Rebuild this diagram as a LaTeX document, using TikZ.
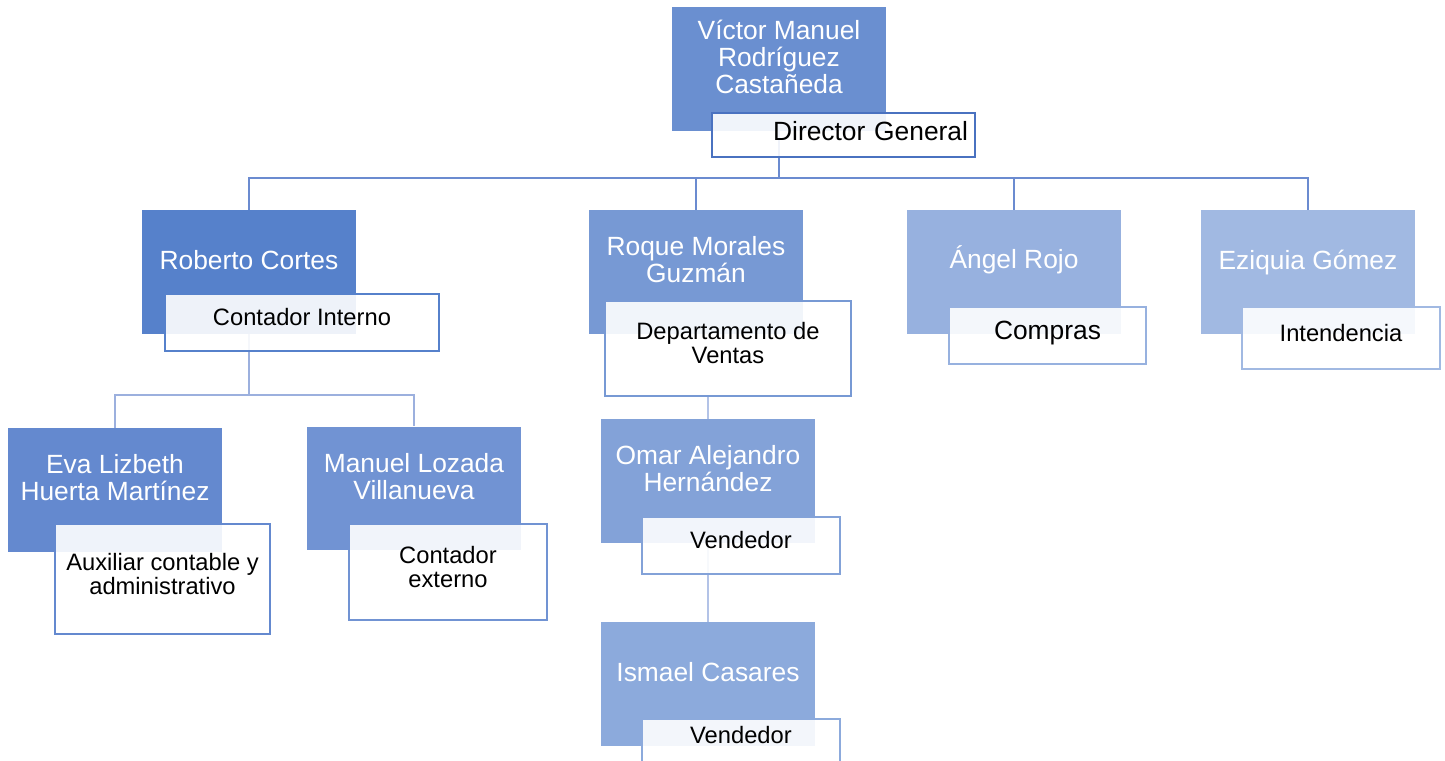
\documentclass[tikz,border=0pt]{standalone}
\usepackage{fontspec}
\setmainfont{Liberation Sans}
\usetikzlibrary{calc}

\definecolor{vicblue}{HTML}{6A8FD0}
\definecolor{robblue}{HTML}{5681CB}
\definecolor{roqblue}{HTML}{7799D4}
\definecolor{angblue}{HTML}{97B1DF}
\definecolor{ezublue}{HTML}{A1B9E2}
\definecolor{evablue}{HTML}{6489CF}
\definecolor{manblue}{HTML}{7193D3}
\definecolor{omablue}{HTML}{83A2D8}
\definecolor{ismblue}{HTML}{8CAADC}
\definecolor{dgline}{HTML}{4A72C0}
\definecolor{busone}{HTML}{6B8BD0}
\definecolor{bustwo}{HTML}{9CB0DE}
\definecolor{busthree}{HTML}{B3C3E7}

\tikzset{
  persona/.style={fill=#1, text=white, minimum width=4.28cm, minimum height=2.48cm,
    align=center, inner sep=2pt, text depth=14pt, font=\fontsize{15}{15.3}\selectfont},
  cargo/.style={draw=#1, line width=1.1pt, fill=white, fill opacity=0.9, text opacity=1,
    text=black, align=center, inner sep=2pt, text depth=6pt, font=\fontsize{13.5}{13.6}\selectfont},
  bus/.style={draw=#1, line width=1.1pt},
}

\begin{document}
\begin{tikzpicture}[x=0.02cm, y=-0.02cm]
\useasboundingbox (0,0) rectangle (1445,761);

\node[persona=vicblue] (vic) at (779,69) {Víctor Manuel\\Rodríguez\\Castañeda};
\node[persona=robblue] (rob) at (249,272) {Roberto Cortes};
\node[persona=roqblue] (roq) at (696,272) {Roque Morales\\Guzmán};
\node[persona=angblue, text depth=17.5pt] (ang) at (1014,272) {Ángel Rojo};
\node[persona=ezublue] (ezi) at (1308,272) {Eziquia Gómez};
\node[persona=evablue] (eva) at (115,490) {Eva Lizbeth\\Huerta Martínez};
\node[persona=manblue] (man) at (414,488.5) {Manuel Lozada\\Villanueva};
\node[persona=omablue] (oma) at (708,481) {Omar Alejandro\\Hernández};
\node[persona=ismblue] (ism) at (708,684) {Ismael Casares};

\foreach \c in {rob,roq,ang,ezi}
  \draw[bus=busone] (vic.south) -- ++(0,47) -| (\c.north);
\foreach \c in {eva,man}
  \draw[bus=bustwo] (rob.south) -- ++(0,61) -| (\c.north);
\draw[bus=busthree] (oma.north) -- ++(0,-23);
\draw[bus=busthree] (oma.south) -- (ism.north);

\node[cargo=dgline, minimum height=0.88cm, text width=4.98cm, align=right, inner xsep=0.14cm,
  text depth=5pt, font=\fontsize{15}{15.3}\selectfont] (dg) at (843.5,135) {Director General};
\node[cargo=robblue, minimum width=5.48cm, minimum height=1.14cm] (ci) at (302,322.5) {Contador Interno};
\node[cargo=roqblue, minimum width=4.92cm, minimum height=1.9cm] (dep) at (728,348.5) {Departamento de\\Ventas};
\node[cargo=angblue, minimum width=3.94cm, minimum height=1.14cm,
  font=\fontsize{15}{15.3}\selectfont] (com) at (1047.5,335.5) {Compras};
\node[cargo=ezublue, minimum width=3.96cm, minimum height=1.24cm] (int) at (1341,338) {Intendencia};
\node[cargo=evablue, minimum width=4.3cm, minimum height=2.2cm] (aux) at (162.5,579) {Auxiliar contable y\\administrativo};
\node[cargo=manblue, minimum width=3.96cm, minimum height=1.92cm] (ce) at (448,572) {Contador\\externo};
\node[cargo=omablue, minimum width=3.96cm, minimum height=1.14cm] (vena) at (741,545.5) {Vendedor};
\node[cargo=ismblue, minimum width=3.96cm, minimum height=1.14cm, text depth=14pt] (venb) at (741,747.5) {Vendedor};
\end{tikzpicture}
\end{document}
